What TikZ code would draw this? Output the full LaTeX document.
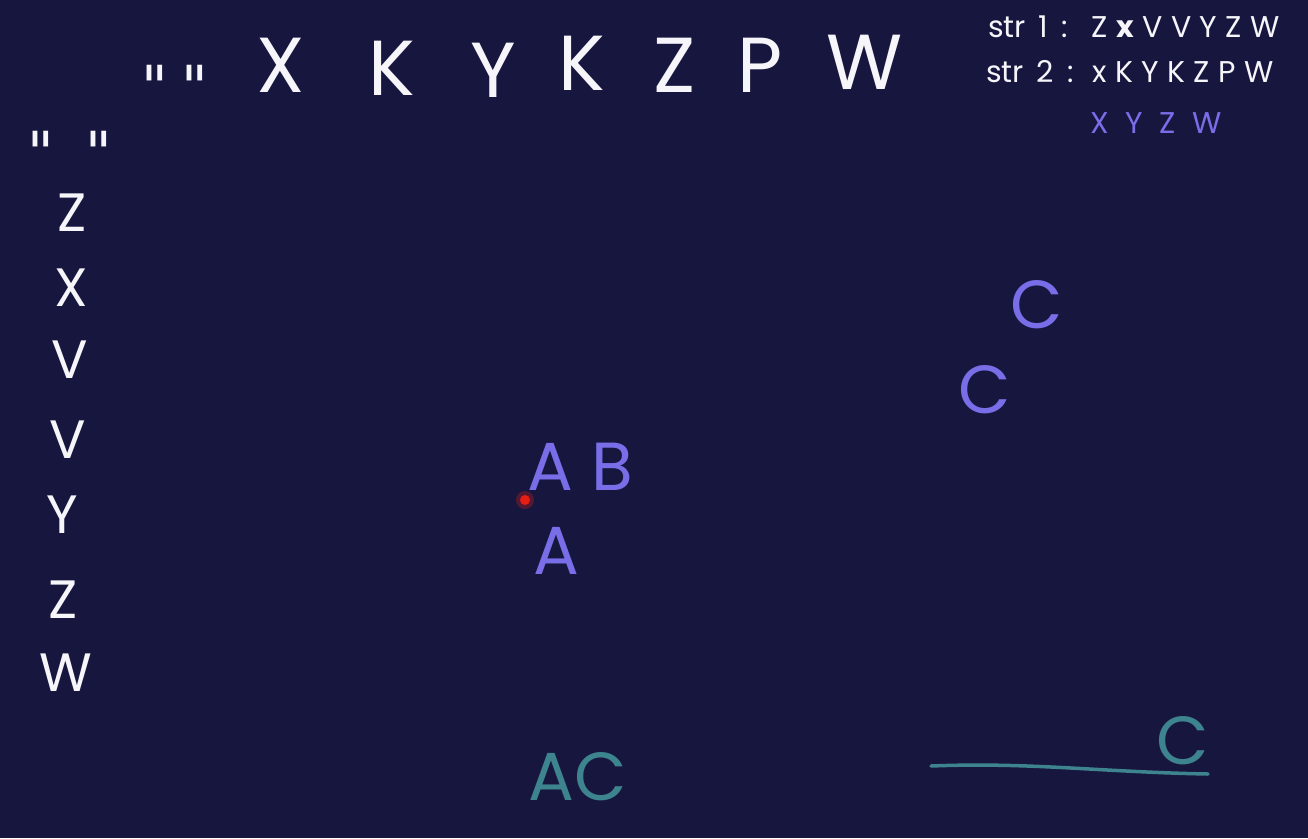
\documentclass[tikz,border=0pt]{standalone}
\usepackage{fontspec}
\setmainfont{Poppins}
\newfontfamily\quotefont{DejaVu Sans}
\definecolor{board}{RGB}{23,22,63}
\definecolor{chalk}{RGB}{245,245,250}
\definecolor{violet}{RGB}{122,110,232}
\definecolor{teal2}{RGB}{62,132,142}
\definecolor{dotred}{RGB}{230,30,20}
\tikzset{
  big/.style={text=chalk, inner sep=0pt, font=\fontsize{78}{80}\selectfont},
  col/.style={text=chalk, inner sep=0pt, font=\fontsize{54}{56}\selectfont},
  quo/.style={text=chalk, inner sep=0pt, font=\quotefont\fontsize{58}{60}\selectfont},
  small/.style={text=chalk, inner sep=0pt, font=\fontsize{30}{32}\selectfont, anchor=west},
  vio/.style={text=violet, inner sep=0pt, font=\fontsize{68}{70}\selectfont},
  vios/.style={text=violet, inner sep=0pt, font=\fontsize{30}{32}\selectfont, anchor=west},
  tea/.style={text=teal2, inner sep=0pt, font=\fontsize{68}{70}\selectfont},
}
\begin{document}
\begin{tikzpicture}[x=1pt,y=-1pt]
\fill[board] (0,0) rectangle (1308,838);
\useasboundingbox (0,0) rectangle (1308,838);
% top row
\node[quo] (q1) at (175,86) {"\hspace{14pt}"};
\node[big] (t1) at (281,65) {X};
\node[big] (t2) at (392,68) {K};
\node[big] (t3) at (493,70) {Y};
\node[big] (t4) at (582,63) {K};
\node[big] (t5) at (675,65) {Z};
\node[big] (t6) at (760,65) {P};
\node[big] (t7) at (865,62) {W};
% left column
\node[quo] (q2) at (70,152) {"\hspace{32pt}"};
\node[col] (c1) at (72,213) {Z};
\node[col] (c2) at (71,288) {X};
\node[col] (c3) at (70,360) {V};
\node[col] (c4) at (68,440) {V};
\node[col] (c5) at (62,515) {Y};
\node[col] (c6) at (63,600) {Z};
\node[col] (c7) at (66,673) {W};
% top right
\node[small] (s1) at (988,27) {str\, 1\, :\;\, Z\;\textbf{x}\;V\;V\;Y\;Z\;W};
\node[small] (s2) at (986,72) {str\, 2\, :\; x\;K\;Y\;K\;Z\;P\;W};
\node[vios] (s3) at (1090,123) {X\;\;Y\;\;Z\;\;W};
% purple
\node[vio] (v1) at (1037,305) {C};
\node[vio] (v2) at (985,390) {C};
\node[vio] (v3) at (580,467) {A B};
\node[vio] (v4) at (556,551) {A};
% red dot
\fill[dotred, opacity=0.3] (525,500) circle (9);
\fill[dotred] (525,500) circle (5);
% teal
\node[tea] (e1) at (578,777) {AC};
\node[tea] (e2) at (1183,741) {C};
\coordinate (l1) at (931,766);
\coordinate (l2) at (1208,774);
\draw[teal2, line width=3.5pt, line cap=round] (l1) .. controls (1030,762) and (1100,772) .. (l2);
\end{tikzpicture}
\end{document}
